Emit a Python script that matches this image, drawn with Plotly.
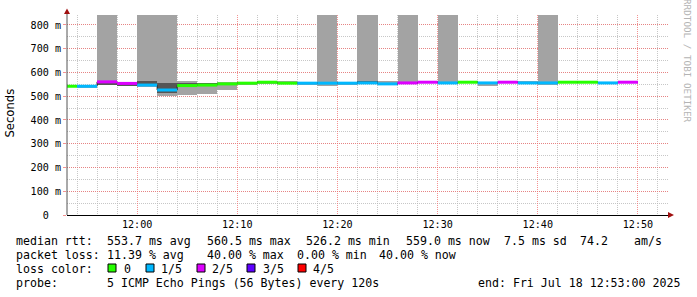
import plotly.graph_objects as go
from datetime import datetime, timedelta

# ---------------- data ----------------
day = "2025-07-18 "
seg_start = ["11:52", "11:54", "11:56", "11:58", "12:00", "12:02", "12:04", "12:06",
             "12:08", "12:10", "12:12", "12:14", "12:16", "12:18", "12:20", "12:22",
             "12:24", "12:26", "12:28", "12:30", "12:32", "12:34", "12:36", "12:38",
             "12:40", "12:42", "12:44", "12:46", "12:48"]
step_s = 120
# median rtt per step (ms)
median_ms = [542, 542, 560.5, 554, 547, 526.2, 545, 547, 552, 555, 559, 555, 555, 555, 555,
             556, 552, 556, 559, 556, 559, 556, 559, 556, 556, 559, 559, 556, 559]
# lost pings (out of 5)
loss = [0, 1, 2, 2, 1, 1, 0, 0, 0, 0, 0, 0, 1, 1, 1, 1, 1, 2, 2, 1, 0, 1, 2, 1, 1, 0, 0, 1, 2]
# outer smoke range (ms)
smoke_lo = [540, 535, 550, 543, 538, 499, 505, 510, 526, 550, 553, 552, 547, 543, 551,
            552, 550, 553, 556, 553, 556, 543, 556, 553, 546, 557, 557, 553, 556]
smoke_hi = [545, 548, 900, 558, 900, 900, 563, 556, 560, 558, 563, 563, 557, 900, 558,
            900, 563, 900, 564, 900, 562, 558, 563, 563, 900, 561, 561, 558, 562]
# inner smoke range (ms)
dark_lo = [541, 540, 547, 543, 553, 512, 549, 549, 550, 553, 557, 553, 553, 553, 553,
           553, 550, 554, 556, 554, 557, 554, 556, 554, 554, 557, 557, 554, 557]
dark_hi = [543, 544, 558, 552, 564, 556, 555, 555, 554, 557, 561, 557, 557, 557, 557,
           565, 554, 558, 564, 558, 561, 558, 563, 558, 558, 561, 561, 558, 561]

loss_labels = ["0", "1/5", "2/5", "3/5", "4/5"]
loss_colors = ["#26ff00", "#00b8ff", "#dd00ff", "#5e00ff", "#ff0000"]

y_tickvals = [0, 0.1, 0.2, 0.3, 0.4, 0.5, 0.6, 0.7, 0.8]
y_ticktext = ["0\u00a0\u00a0", "100 m", "200 m", "300 m", "400 m", "500 m", "600 m", "700 m", "800 m"]

rtt_items = ["median rtt:", "553.7 ms avg", "560.5 ms max", "526.2 ms min", "559.0 ms now",
             "7.5 ms sd", "74.2", "am/s"]
loss_items = ["packet loss:", "11.39 % avg", "40.00 % max", "0.00 % min", "40.00 % now"]
probe_items = ["probe:", "5 ICMP Echo Pings (56 Bytes) every 120s"]
end_text = "end: Fri Jul 18 12:53:00 2025"
loss_color_title = "loss color:"

# ---------------- layout helpers ----------------
W, H = 697, 297
L, R, T, B = 67, 29, 15, 82
PW, PH = W - L - R, H - T - B

def px(x):
    return (x - L) / PW

def py(y):
    return (H - B - y) / PH

starts = [datetime.strptime(day + s, "%Y-%m-%d %H:%M") for s in seg_start]
ends = [s + timedelta(seconds=step_s) for s in starts]
ms = lambda v: v / 1000.0

fig = go.Figure()
fig.add_trace(go.Bar(x=starts, base=[ms(v) for v in smoke_lo],
                     y=[ms(h - l) for l, h in zip(smoke_lo, smoke_hi)],
                     width=step_s * 1000, offset=0, marker_color="#a3a3a3",
                     marker_line_width=0, hoverinfo="skip", showlegend=False))
fig.add_trace(go.Bar(x=starts, base=[ms(v) for v in dark_lo],
                     y=[ms(h - l) for l, h in zip(dark_lo, dark_hi)],
                     width=step_s * 1000, offset=0, marker_color="#555555",
                     marker_line_width=0, hoverinfo="skip", showlegend=False))
fig.add_trace(go.Scatter(x=starts + [ends[-1]], y=[ms(v) for v in median_ms] + [ms(median_ms[-1])],
                         mode="lines", line=dict(color="#202020", width=1, shape="hv"),
                         hoverinfo="skip", showlegend=False))
for lvl, col in enumerate(loss_colors):
    xs, ys = [], []
    for s, e, m, l in zip(starts, ends, median_ms, loss):
        if l == lvl:
            xs += [s, e, None]
            ys += [ms(m), ms(m), None]
    if xs:
        fig.add_trace(go.Scatter(x=xs, y=ys, mode="lines", line=dict(color=col, width=3),
                                 hoverinfo="skip", showlegend=False))

mono = "DejaVu Sans Mono"
mgrid = "rgba(240,110,110,0.75)"
grid = "rgba(180,180,180,0.75)"

fig.update_layout(
    width=W, height=H, autosize=False,
    margin=dict(l=L, r=R, t=T, b=B, pad=0),
    paper_bgcolor="white", plot_bgcolor="white",
    barmode="overlay", bargap=0, showlegend=False,
    font=dict(family=mono, size=10.1, color="black"),
    xaxis=dict(type="date", range=[day + "11:53", day + "12:53"],
               dtick=600000, tickformat="%H:%M",
               showgrid=True, gridcolor=mgrid, griddash="1px,1px", gridwidth=1,
               minor=dict(dtick=120000, showgrid=True, gridcolor=grid, griddash="1px,1px", gridwidth=1),
               showline=True, linecolor="black", linewidth=1,
               ticks="", zeroline=False, tickfont=dict(family=mono, size=10.1), fixedrange=True),
    yaxis=dict(range=[0, 0.842], tickmode="array", tickvals=y_tickvals, ticktext=y_ticktext,
               showgrid=True, gridcolor=mgrid, griddash="1px,1px", gridwidth=1,
               minor=dict(tickmode="linear", tick0=0, dtick=0.05, showgrid=True,
                          gridcolor=grid, griddash="1px,1px", gridwidth=1),
               showline=False, ticks="outside", ticklen=3, tickcolor=mgrid,
               zeroline=False, tickfont=dict(family=mono, size=10.1), fixedrange=True),
)

shapes = []
shapes.append(dict(type="line", xref="paper", yref="paper", x0=px(67), x1=px(67), y0=py(215), y1=py(12),
                   line=dict(color="#555555", width=1)))
shapes.append(dict(type="path", xref="paper", yref="paper",
                   path=f"M {px(64)},{py(14)} L {px(67)},{py(8.5)} L {px(70)},{py(14)} Z",
                   fillcolor="#a01010", line=dict(width=0)))
shapes.append(dict(type="path", xref="paper", yref="paper",
                   path=f"M {px(668)},{py(212)} L {px(674)},{py(215)} L {px(668)},{py(218)} Z",
                   fillcolor="#a01010", line=dict(width=0)))
box_x = [108, 146, 197, 247, 298]
for bx, col in zip(box_x, loss_colors):
    shapes.append(dict(type="rect", xref="paper", yref="paper", x0=px(bx), x1=px(bx + 8),
                       y0=py(272), y1=py(264), fillcolor=col, line=dict(color="black", width=1)))
fig.update_layout(shapes=shapes)

def nb(s):
    return s.replace(" ", "\u00a0")

annos = []
def txt(x, y, s, anchor="left", size=11.6, family=mono, color="black", angle=0):
    annos.append(dict(xref="paper", yref="paper", x=px(x), y=py(y), text=nb(s), showarrow=False,
                      xanchor=anchor, yanchor="middle", textangle=angle,
                      font=dict(family=family, size=size, color=color), borderpad=0))

rtt_x = [16, 107, 207, 306, 406, 504, 580, 634]
for x, s in zip(rtt_x, rtt_items):
    txt(x - 1, 241, s)
loss_x = [16, 107, 207, 296.5, 379]
for x, s in zip(loss_x, loss_items):
    txt(x - 1, 255, s)
txt(15, 269, loss_color_title)
lab_x = [124, 161, 212, 263, 313]
for lx, lab in zip(lab_x, loss_labels):
    txt(lx - 1, 269, lab)
probe_x = [16, 107]
for x, s in zip(probe_x, probe_items):
    txt(x - 1, 283, s)
txt(681, 283, end_text, anchor="right")
txt(9.5, 113, "Seconds", anchor="center", family="DejaVu Sans", angle=-90)
txt(688, 61, "RRDTOOL / TOBI OETIKER", anchor="center", size=9.3, color="#b4b4b4", angle=90)
fig.update_layout(annotations=annos)

fig.write_html("out.html")
